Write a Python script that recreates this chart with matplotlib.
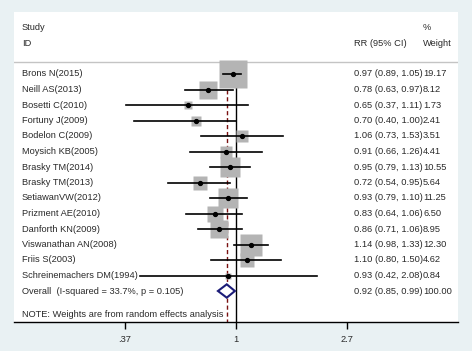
import numpy as np
import matplotlib
matplotlib.use("Agg")
import matplotlib.pyplot as plt

# Study data
studies = ["Brons N(2015)", "Neill AS(2013)", "Bosetti C(2010)", "Fortuny J(2009)",
           "Bodelon C(2009)", "Moysich KB(2005)", "Brasky TM(2014)", "Brasky TM(2013)",
           "SetiawanVW(2012)", "Prizment AE(2010)", "Danforth KN(2009)",
           "Viswanathan AN(2008)", "Friis S(2003)", "Schreinemachers DM(1994)"]
rr = [0.97, 0.78, 0.65, 0.70, 1.06, 0.91, 0.95, 0.72, 0.93, 0.83, 0.86, 1.14, 1.10, 0.93]
lo = [0.89, 0.63, 0.37, 0.40, 0.73, 0.66, 0.79, 0.54, 0.79, 0.64, 0.71, 0.98, 0.80, 0.42]
hi = [1.05, 0.97, 1.11, 1.00, 1.53, 1.26, 1.13, 0.95, 1.10, 1.06, 1.06, 1.33, 1.50, 2.08]
weights = [19.17, 8.12, 1.73, 2.41, 3.51, 4.41, 10.55, 5.64, 11.25, 6.50, 8.95, 12.30, 4.62, 0.84]

overall_rr, overall_lo, overall_hi = 0.92, 0.85, 0.99
overall_label = "Overall  (I-squared = 33.7%, p = 0.105)"
note = "NOTE: Weights are from random effects analysis"
tick_vals = [np.exp(-1), 1, np.exp(1)]
tick_labels = [".37", "1", "2.7"]

plt.rcParams['font.family'] = ['Liberation Sans', 'DejaVu Sans']
fs = 6.7
txt = "#2a2a2a"

fig = plt.figure(figsize=(4.72, 3.51), dpi=100, facecolor="#e9f1f3")
ax = fig.add_axes([14 / 472, 29 / 351, 444 / 472, 310 / 351])
ax.set_facecolor("white")
ax.set_xscale("log")
ax.set_xlim(np.exp(-2), np.exp(2))
ax.set_ylim(16, -4)

n = len(studies)
ys = np.arange(n)
y_overall = n
y_note = n + 1.5

# reference lines
ax.plot([1, 1], [-0.77, 16], color="black", lw=1.0, zorder=1)
ax.plot([overall_rr, overall_rr], [-0.77, 16], color="#7a1010", lw=1.0,
        ls=(0, (3, 2)), zorder=1)

# weight boxes, CI lines, point estimates
k = 6.17 * 0.72
for i in range(n):
    ax.plot(rr[i], ys[i], marker="s", ms=k * np.sqrt(weights[i]),
            color="#b4b4b4", mec="none", zorder=2)
    ax.plot([lo[i], hi[i]], [ys[i], ys[i]], color="black", lw=1.2, zorder=3)
    ax.plot(rr[i], ys[i], marker="o", ms=2.8, color="black", zorder=4)

# overall diamond
h = 0.43
ax.fill([overall_lo, overall_rr, overall_hi, overall_rr],
        [y_overall, y_overall - h, y_overall, y_overall + h],
        facecolor="white", edgecolor="#1c1c78", lw=1.5, zorder=5)

# header
ax.axhline(-0.77, color="#c4c4c4", lw=1.0, zorder=0)
tr = ax.get_yaxis_transform()
x_lab = (22 - 14) / 444
x_rr = (354 - 14) / 444
x_w = (423 - 14) / 444
ax.text(x_lab, -3, "Study", transform=tr, fontsize=fs, color=txt, va="center")
ax.text(x_lab, -2, "ID", transform=tr, fontsize=fs, color=txt, va="center")
ax.text(x_rr, -2, "RR (95% CI)", transform=tr, fontsize=fs, color=txt, va="center")
ax.text(x_w, -3, "%", transform=tr, fontsize=fs, color=txt, va="center")
ax.text(x_w, -2, "Weight", transform=tr, fontsize=fs, color=txt, va="center")

for i in range(n):
    ax.text(x_lab, ys[i], studies[i], transform=tr, fontsize=fs, color=txt, va="center")
    ax.text(x_rr, ys[i], f"{rr[i]:.2f} ({lo[i]:.2f}, {hi[i]:.2f})", transform=tr,
            fontsize=fs, color=txt, va="center")
    ax.text(x_w, ys[i], f"{weights[i]:.2f}", transform=tr, fontsize=fs, color=txt, va="center")

ax.text(x_lab, y_overall, overall_label, transform=tr, fontsize=fs, color=txt, va="center")
ax.text(x_rr, y_overall, f"{overall_rr:.2f} ({overall_lo:.2f}, {overall_hi:.2f})",
        transform=tr, fontsize=fs, color=txt, va="center")
ax.text(x_w, y_overall, "100.00", transform=tr, fontsize=fs, color=txt, va="center")
ax.text(x_lab, y_note, note, transform=tr, fontsize=fs, color=txt, va="center")

# axes styling
for s in ["top", "left", "right"]:
    ax.spines[s].set_visible(False)
ax.spines["bottom"].set_linewidth(1.0)
ax.set_yticks([])
ax.set_xticks(tick_vals)
ax.set_xticklabels(tick_labels, fontsize=fs, color=txt)
ax.minorticks_off()
ax.tick_params(axis="x", length=5, width=1.0, pad=4)

fig.savefig("out.png", dpi=100, facecolor=fig.get_facecolor())
